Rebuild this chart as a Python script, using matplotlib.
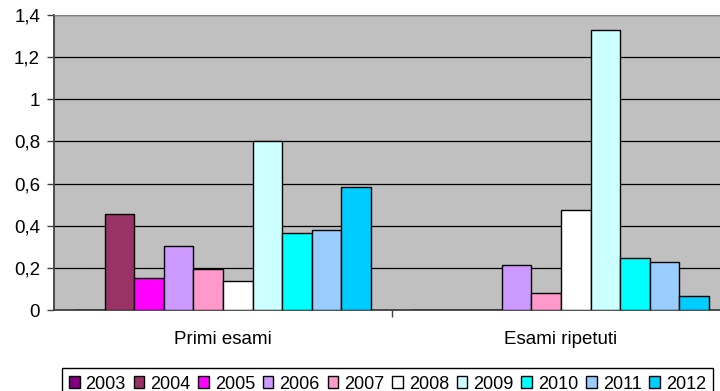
import numpy as np
import matplotlib
matplotlib.use("Agg")
import matplotlib.pyplot as plt
from matplotlib.ticker import FuncFormatter, FixedLocator

plt.rcParams['font.family'] = ['Liberation Sans', 'DejaVu Sans']

categories = ["Primi esami", "Esami ripetuti"]
years = ["2003", "2004", "2005", "2006", "2007", "2008", "2009", "2010", "2011", "2012"]
colors = ["#800080", "#993366", "#FF00FF", "#CC99FF", "#FF99CC",
          "#FFFFFF", "#CCFFFF", "#00FFFF", "#99CCFF", "#00CCFF"]
# one list per year: [Primi esami, Esami ripetuti]
values = {
    "2003": [0.0, 0.0],
    "2004": [0.455, 0.0],
    "2005": [0.155, 0.0],
    "2006": [0.305, 0.216],
    "2007": [0.197, 0.080],
    "2008": [0.140, 0.476],
    "2009": [0.800, 1.327],
    "2010": [0.367, 0.249],
    "2011": [0.381, 0.230],
    "2012": [0.584, 0.066],
}
yticks = [0, 0.2, 0.4, 0.6, 0.8, 1.0, 1.2, 1.4]

W, H = 720, 391
fig = plt.figure(figsize=(W / 100, H / 100), dpi=100)
# plot area runs a little past the right edge of the picture, like the original
ax = fig.add_axes([54 / W, 1 - 310.3 / H, 676 / W, (310.3 - 14.7) / H])
ax.set_facecolor("#C0C0C0")

x = np.arange(len(categories))
w = 0.0876
for k, yr in enumerate(years):
    ax.bar(x + (k - 4.5) * w, values[yr], width=w, color=colors[k],
           edgecolor="black", linewidth=1, label=yr, zorder=3)

ax.set_xlim(-0.5, 1.5)
ax.set_ylim(0, 1.4)
ax.set_yticks(yticks)
ax.yaxis.set_major_formatter(FuncFormatter(
    lambda v, p: ("%g" % round(v, 1)).replace(".", ",")))
ax.yaxis.grid(True, color="black", linewidth=0.9, zorder=1)
ax.set_axisbelow(True)

ax.set_xticks(x)
ax.set_xticklabels(categories)
ax.xaxis.set_minor_locator(FixedLocator([0.5]))
ax.tick_params(axis="x", which="major", length=0, pad=15, labelsize=13.5)
ax.tick_params(axis="x", which="minor", length=5, width=1, color="#404040")
ax.tick_params(axis="y", length=5, width=1, color="#404040", pad=5, labelsize=13.5)

for s in ["left", "bottom"]:
    ax.spines[s].set_color("#404040")
    ax.spines[s].set_linewidth(1.3)
ax.spines["top"].set_color("#808080")
ax.spines["right"].set_visible(False)

leg = fig.legend(loc="upper left", bbox_to_anchor=(61.7 / W, 1 - 368.3 / H),
                 ncol=10, fontsize=13, frameon=True, fancybox=False,
                 edgecolor="black", framealpha=1, handlelength=0.59,
                 handleheight=0.59, handletextpad=0.33, columnspacing=0.43,
                 borderpad=0.4, borderaxespad=0)
leg.get_frame().set_linewidth(1)

fig.savefig("out.png", dpi=100)
